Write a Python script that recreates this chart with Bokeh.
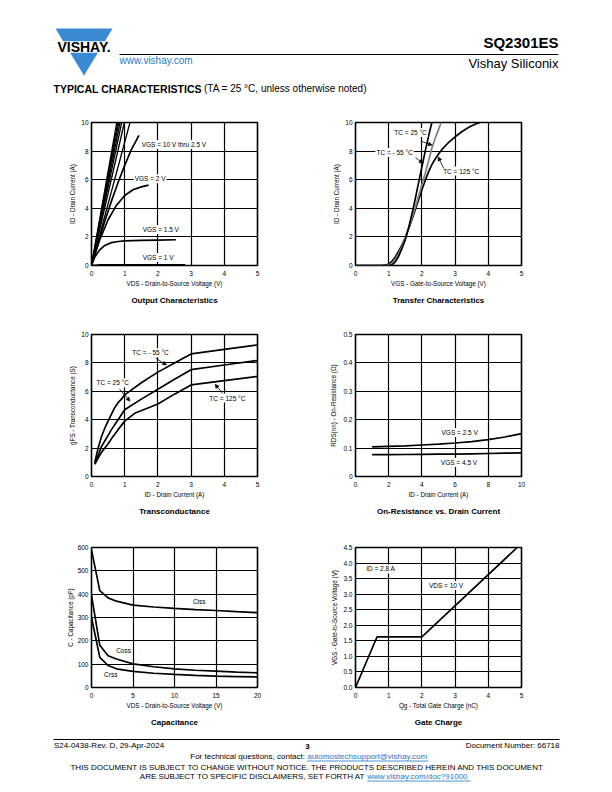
from bokeh.plotting import figure
from bokeh.layouts import column, row
from bokeh.models import Range1d, Label, Arrow, NormalHead, FixedTicker, PrintfTickFormatter
from bokeh.embed import file_html
from bokeh.resources import INLINE
from bokeh.core.properties import value

FONT = "Liberation Sans"
BLUE = "#3a8ad3"
LINK = "#1f78c8"

# ---------------- data ----------------
# Output characteristics (ID vs VDS)
oc_steep_vds_end = [0.76, 0.79, 0.82, 0.86, 0.91, 0.99, 1.16]  # VDS where ID reaches 10 A
oc_steep_id_end = 10
oc_vds_2v5 = [0, 0.2, 0.4, 0.6, 0.8, 1.0, 1.2, 1.43]
oc_id_2v5 = [0, 1.6, 3.1, 4.5, 5.8, 7.0, 8.1, 9.1]
oc_vds_2v = [0, 0.1, 0.25, 0.5, 0.75, 1.0, 1.25, 1.5, 1.72]
oc_id_2v = [0, 0.75, 1.8, 3.2, 4.2, 4.9, 5.3, 5.5, 5.62]
oc_vds_1v5 = [0, 0.1, 0.25, 0.4, 0.6, 0.8, 1.0, 1.5, 2.0, 2.54]
oc_id_1v5 = [0, 0.6, 1.1, 1.4, 1.6, 1.68, 1.72, 1.76, 1.78, 1.8]
oc_vds_1v = [0, 0.3, 2.82]
oc_id_1v = [0, 0.04, 0.05]

# Transfer characteristics (ID vs VGS)
tr_vgs_m55 = [0, 1.0, 1.1, 1.2, 1.3, 1.4, 1.5, 1.6, 1.7, 1.8, 1.9, 2.0, 2.1, 2.2, 2.3]
tr_id_m55 = [0, 0, 0.05, 0.25, 0.65, 1.2, 1.8, 2.65, 3.6, 4.65, 5.8, 6.9, 8.0, 9.05, 10.0]
tr_vgs_25 = [0, 0.9, 1.0, 1.1, 1.2, 1.3, 1.4, 1.5, 1.6, 1.7, 1.8, 1.9, 2.0, 2.1, 2.2, 2.3, 2.4, 2.5, 2.58]
tr_id_25 = [0, 0, 0.03, 0.15, 0.45, 0.85, 1.35, 1.95, 2.6, 3.3, 4.05, 4.85, 5.65, 6.45, 7.3, 8.2, 8.9, 9.5, 10.0]
tr_vgs_125 = [0, 0.8, 0.9, 1.0, 1.1, 1.2, 1.3, 1.4, 1.5, 1.6, 1.7, 1.8, 1.9, 2.0, 2.1, 2.2,
              2.3, 2.4, 2.5, 2.6, 2.8, 3.0, 3.2, 3.4, 3.6, 3.75]
tr_id_125 = [0, 0, 0.02, 0.1, 0.3, 0.6, 1.0, 1.45, 1.95, 2.55, 3.2, 3.9, 4.6, 5.3, 5.95, 6.55,
             7.05, 7.45, 7.8, 8.1, 8.6, 9.0, 9.35, 9.65, 9.88, 10.0]

# Transconductance (gFS vs ID)
gfs_id_m55 = [0.1, 0.2, 0.3, 0.4, 0.5, 0.6, 0.7, 0.8, 0.9, 1.0, 1.5, 2.0, 2.5, 3.0, 4.0, 5.0]
gfs_m55 = [1.0, 2.0, 2.8, 3.4, 3.9, 4.4, 4.85, 5.2, 5.45, 5.75, 6.6, 7.35, 8.0, 8.63, 8.95, 9.26]
gfs_id_25 = [0.1, 0.2, 0.3, 0.4, 0.5, 0.6, 0.8, 1.0, 1.5, 2.0, 2.5, 3.0, 4.0, 5.0]
gfs_25 = [0.9, 1.5, 2.1, 2.5, 2.9, 3.3, 4.0, 4.7, 5.45, 6.15, 6.85, 7.52, 7.85, 8.17]
gfs_id_125 = [0.1, 0.2, 0.3, 0.4, 0.5, 0.6, 0.8, 1.0, 1.3, 2.0, 2.5, 3.0, 4.0, 5.0]
gfs_125 = [0.85, 1.3, 1.7, 2.0, 2.3, 2.65, 3.3, 3.9, 4.45, 5.1, 5.8, 6.45, 6.75, 7.05]

# On-resistance vs drain current
ron_id = [1, 2, 3, 4, 5, 6, 7, 8, 9, 10]
ron_2v5 = [0.104, 0.106, 0.108, 0.111, 0.114, 0.118, 0.123, 0.130, 0.139, 0.151]
ron_4v5 = [0.077, 0.077, 0.0775, 0.078, 0.0785, 0.079, 0.080, 0.081, 0.082, 0.083]

# Capacitance vs VDS
cap_vds = [0, 1, 2, 3, 5, 7.5, 10, 12.5, 15, 17.5, 20]
cap_ciss = [590, 415, 384, 370, 353, 345, 339, 334, 330, 325, 321]
cap_coss = [395, 181, 136, 122, 101, 89, 80, 74, 70, 66, 63]
cap_crss = [300, 129, 94, 80, 69, 61, 56, 52, 49, 47, 45]

# Gate charge
gc_qg = [0, 0.65, 2.0, 4.87]
gc_vgs = [0, 1.63, 1.63, 4.5]

# ---------------- helpers ----------------
COLW = 302


def chart(title, x_end, y_end, xticks, yticks, xlabel, ylabel, left_col, fig_h, top, frame_h, ylab_so):
    bl = 91 if left_col else 53
    br = COLW - bl - 166
    p = figure(width=COLW, height=fig_h, x_range=Range1d(0, x_end), y_range=Range1d(0, y_end),
               output_backend="svg", toolbar_location=None, title=title, title_location="below",
               min_border_left=bl, min_border_right=br, min_border_top=top,
               min_border_bottom=fig_h - top - frame_h)
    p.outline_line_color = "black"
    p.outline_line_width = 1.6
    p.xaxis.ticker = FixedTicker(ticks=xticks)
    p.yaxis.ticker = FixedTicker(ticks=yticks)
    p.xgrid.ticker = FixedTicker(ticks=xticks[1:-1])
    p.ygrid.ticker = FixedTicker(ticks=yticks[1:-1])
    for g in (p.xgrid, p.ygrid):
        g.grid_line_color = "black"
        g.grid_line_width = 1.2
        g.grid_line_alpha = 1.0
    p.xaxis.axis_label = xlabel
    p.yaxis.axis_label = ylabel
    for ax in (p.xaxis, p.yaxis):
        ax.axis_line_color = None
        ax.major_tick_line_color = None
        ax.minor_tick_line_color = None
        ax.major_tick_out = 0
        ax.major_tick_in = 0
        ax.minor_tick_out = 0
        ax.major_label_text_font = FONT
        ax.major_label_text_font_size = "6.5px"
        ax.major_label_text_color = "black"
        ax.axis_label_text_font = FONT
        ax.axis_label_text_font_size = "6.3px"
        ax.axis_label_text_font_style = "normal"
        ax.axis_label_text_color = "black"
    p.xaxis.major_label_standoff = 5
    p.yaxis.major_label_standoff = 3
    p.xaxis.axis_label_standoff = 1
    p.yaxis.axis_label_standoff = ylab_so
    p.title.text_font = FONT
    p.title.text_font_size = "8px"
    p.title.text_font_style = "bold"
    p.title.align = "center"
    p.title.text_color = "black"
    p.title.standoff = 8
    return p


def lab(p, x, y, text, bg=True):
    p.add_layout(Label(x=x, y=y, text=text, text_font=FONT, text_font_size="6.5px",
                       text_baseline="middle", text_align="left", text_color="black",
                       background_fill_color="white" if bg else None, padding=1))


def arrow(p, x0, y0, x1, y1):
    p.add_layout(Arrow(end=NormalHead(size=4, fill_color="black", line_color="black", line_width=0.5),
                       x_start=x0, y_start=y0, x_end=x1, y_end=y1,
                       line_color="black", line_width=0.8))

LW = 1.7

# 1 Output characteristics
p1 = chart("Output Characteristics", 5, 10, [0, 1, 2, 3, 4, 5], [0, 2, 4, 6, 8, 10],
           "VDS - Drain-to-Source Voltage (V)", "ID - Drain Current (A)", True, 212, 22, 143, 2)
for xe in oc_steep_vds_end:
    p1.line([0, xe], [0, oc_steep_id_end], line_color="black", line_width=1.3)
p1.line(oc_vds_2v5, oc_id_2v5, line_color="black", line_width=LW)
p1.line(oc_vds_2v, oc_id_2v, line_color="black", line_width=LW)
p1.line(oc_vds_1v5, oc_id_1v5, line_color="black", line_width=LW)
p1.line(oc_vds_1v, oc_id_1v, line_color="black", line_width=LW)
lab(p1, 1.48, 8.46, "VGS = 10 V thru 2.5 V")
lab(p1, 1.27, 6.06, "VGS = 2 V")
lab(p1, 1.51, 2.52, "VGS = 1.5 V")
lab(p1, 1.51, 0.56, "VGS = 1 V")

# 2 Transfer characteristics
p2 = chart("Transfer Characteristics", 5, 10, [0, 1, 2, 3, 4, 5], [0, 2, 4, 6, 8, 10],
           "VGS - Gate-to-Source Voltage (V)", "ID - Drain Current (A)", False, 212, 22, 143, 2)
p2.line(tr_vgs_125, tr_id_125, line_color="black", line_width=LW)
p2.line(tr_vgs_25, tr_id_25, line_color="#808080", line_width=LW)
p2.line(tr_vgs_m55, tr_id_m55, line_color="black", line_width=LW)
lab(p2, 1.14, 9.3, "TC = 25 °C")
lab(p2, 0.6, 7.9, "TC = - 55 °C")
lab(p2, 2.61, 6.6, "TC = 125 °C")
arrow(p2, 1.98, 8.69, 2.31, 8.41)
arrow(p2, 1.81, 7.53, 2.04, 7.15)
arrow(p2, 2.66, 6.78, 2.49, 7.6)

# 3 Transconductance
p3 = chart("Transconductance", 5, 10, [0, 1, 2, 3, 4, 5], [0, 2, 4, 6, 8, 10],
           "ID - Drain Current (A)", "gFS - Transconductance (S)", True, 213, 20, 144, 2)
p3.line(gfs_id_m55, gfs_m55, line_color="black", line_width=LW)
p3.line(gfs_id_25, gfs_25, line_color="black", line_width=LW)
p3.line(gfs_id_125, gfs_125, line_color="black", line_width=LW)
lab(p3, 1.2, 8.72, "TC = - 55 °C")
lab(p3, 0.12, 6.61, "TC = 25 °C")
lab(p3, 3.52, 5.52, "TC = 125 °C")
arrow(p3, 1.94, 8.33, 2.26, 7.85)
arrow(p3, 0.84, 6.17, 1.16, 5.3)
arrow(p3, 3.95, 5.85, 3.72, 6.5)

# 4 On-resistance
p4 = chart("On-Resistance vs. Drain Current", 10, 0.5, [0, 2, 4, 6, 8, 10],
           [0, 0.1, 0.2, 0.3, 0.4, 0.5],
           "ID - Drain Current (A)", "RDS(on) - On-Resistance (Ω)", False, 213, 22, 142, 3)
p4.yaxis.formatter = PrintfTickFormatter(format="%.1f")
p4.yaxis.major_label_overrides = {0: "0"}
p4.line(ron_id, ron_2v5, line_color="black", line_width=LW)
p4.line(ron_id, ron_4v5, line_color="black", line_width=LW)
lab(p4, 5.12, 0.155, "VGS = 2.5 V")
lab(p4, 5.08, 0.049, "VGS = 4.5 V")

# 5 Capacitance
p5 = chart("Capacitance", 20, 600, [0, 5, 10, 15, 20], [0, 100, 200, 300, 400, 500, 600],
           "VDS - Drain-to-Source Voltage (V)", "C - Capacitance (pF)", True, 210, 19, 143, 1)
p5.line(cap_vds, cap_ciss, line_color="black", line_width=LW)
p5.line(cap_vds, cap_coss, line_color="black", line_width=LW)
p5.line(cap_vds, cap_crss, line_color="black", line_width=LW)
lab(p5, 12.1, 367, "Ciss", bg=False)
lab(p5, 2.85, 160, "Coss", bg=False)
lab(p5, 1.4, 57, "Crss", bg=False)

# 6 Gate charge
p6 = chart("Gate Charge", 5, 4.5, [0, 1, 2, 3, 4, 5],
           [0, 0.5, 1.0, 1.5, 2.0, 2.5, 3.0, 3.5, 4.0, 4.5],
           "Qg - Total Gate Charge (nC)", "VGS - Gate-to-Source Voltage (V)", False, 210, 22, 143, 2)
p6.yaxis.formatter = PrintfTickFormatter(format="%.1f")
p6.line(gc_qg, gc_vgs, line_color="black", line_width=LW)
lab(p6, 0.29, 3.81, "ID = 2.8 A")
lab(p6, 2.18, 3.28, "VDS = 10 V")

# ---------------- header / footer (page coordinates) ----------------
def page_fig(h, y0, y1):
    f = figure(width=2 * COLW, height=h, x_range=Range1d(0, 2 * COLW), y_range=Range1d(y1, y0),
               output_backend="svg", toolbar_location=None, x_axis_type=None, y_axis_type=None,
               min_border=0)
    f.grid.visible = False
    f.outline_line_color = None
    return f


def txt(f, x, y, s, size, color="black", align="left", style="normal"):
    f.text(x=[x], y=[y], text=[s], text_font=value(FONT), text_font_size=value(size),
           text_color=color, text_align=align, text_baseline="middle", text_font_style=style)

hd = page_fig(100, 0, 100)
hd.patch([55, 112, 104.4, 62.6], [28, 28, 40.7, 40.7], fill_color=BLUE, line_color=None)
hd.patch([69.6, 97.4, 83.5], [52.3, 52.3, 75], fill_color=BLUE, line_color=None)
txt(hd, 83.5, 46.6, "VISHAY.", "14px", align="center", style="bold")
hd.segment(x0=[119], y0=[54], x1=[558], y1=[54], line_color="black", line_width=1.2)
txt(hd, 558, 42, "SQ2301ES", "15px", align="right", style="bold")
txt(hd, 558, 63, "Vishay Siliconix", "13px", align="right")
txt(hd, 119, 59.5, "www.vishay.com", "10px", color=LINK)
txt(hd, 53, 88, "TYPICAL CHARACTERISTICS", "10.5px", style="bold")
txt(hd, 203.5, 88, "(TA = 25 °C, unless otherwise noted)", "10px")

ft = page_fig(49, 735, 784)
ft.segment(x0=[53], y0=[739], x1=[559], y1=[739], line_color="black", line_width=1.2)
txt(ft, 53.5, 745, "S24-0438-Rev. D, 29-Apr-2024", "8px")
txt(ft, 307, 746, "3", "8px", align="center", style="bold")
txt(ft, 559, 745, "Document Number: 66718", "8px", align="right")
txt(ft, 304.5, 756, "For technical questions, contact:", "8px", align="right")
txt(ft, 306.7, 756, "automostechsupport@vishay.com", "8px", color=LINK)
ft.segment(x0=[306.7], y0=[760.5], x1=[427.5], y1=[760.5], line_color=LINK, line_width=0.8)
txt(ft, 306.8, 767, "THIS DOCUMENT IS SUBJECT TO CHANGE WITHOUT NOTICE. THE PRODUCTS DESCRIBED HEREIN AND THIS DOCUMENT", "8px", align="center")
txt(ft, 364.7, 776, "ARE SUBJECT TO SPECIFIC DISCLAIMERS, SET FORTH AT", "8px", align="right")
txt(ft, 366.7, 776, "www.vishay.com/doc?91000", "8px", color=LINK)
ft.segment(x0=[366.7], y0=[780.5], x1=[470], y1=[780.5], line_color=LINK, line_width=0.8)

layout = column(hd, row(p1, p2), row(p3, p4), row(p5, p6), ft)
open("out.html", "w").write(file_html(layout, INLINE))
